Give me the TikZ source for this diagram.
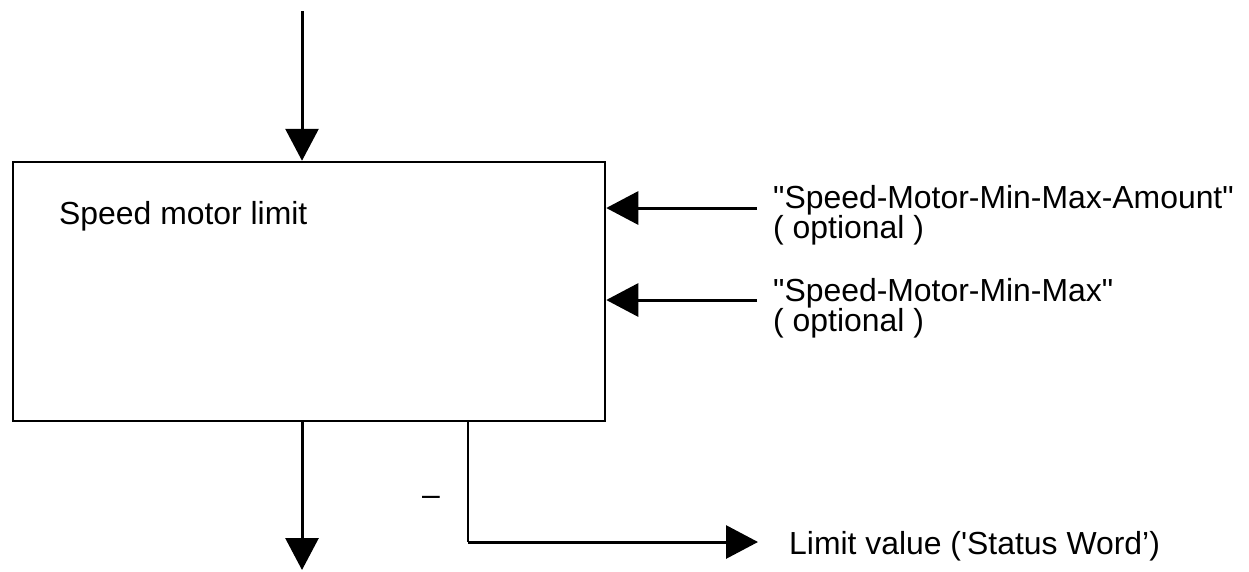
\documentclass[tikz,border=0pt]{standalone}
\usepackage{fontspec}
\newfontfamily\labelfont{Liberation Sans}
\usetikzlibrary{arrows.meta}

\begin{document}
\begin{tikzpicture}[x=1pt,y=-1pt,>={Triangle[length=32pt,width=33pt]}]
		\tikzstyle{block}=[rectangle, draw=black, line width=2.5pt, minimum width=592pt, minimum height=259pt, inner sep=0pt]
		\tikzstyle{label}=[inner sep=0pt, anchor=base west, font=\labelfont\fontsize{31.9}{30}\selectfont]
		\tikzstyle{signal}=[->, line width=3pt]
		\tikzstyle{wire}=[line width=2.5pt]

		\useasboundingbox (0,0) rectangle (1249,571);

		\node [block] (limit) at (309,291.5) {};
		\node [label] (title) at (59,224) {Speed motor limit};

		% speed in and out
		\coordinate (in) at (302,11);
		\coordinate (out) at (302,570);
		\draw [signal] (in) -- (in |- limit.north);
		\draw [signal] (out |- limit.south) -- (out);

		% optional limits
		\coordinate (amount) at (757,208);
		\coordinate (minmax) at (757,300);
		\draw [signal] (amount) -- (amount -| limit.east);
		\draw [signal] (minmax) -- (minmax -| limit.east);

		\node [label] (amounttext) at (773,208) {"Speed-Motor-Min-Max-Amount"};
		\node [label] (amountopt) at (773,238) {( optional )};
		\node [label] (minmaxtext) at (773,301) {"Speed-Motor-Min-Max"};
		\node [label] (minmaxopt) at (773,331) {( optional )};

		% status output
		\coordinate (tap) at (468,542);
		\coordinate (status) at (758,542);
		\draw [wire] (tap |- limit.south) -- (tap);
		\draw [signal] (tap) -- (status);
		\node [label] (statustext) at (789,554) {Limit value ('Status Word’)};
		\node [label, anchor=base] (dash) at (431,505) {–};
	\end{tikzpicture}
\end{document}
